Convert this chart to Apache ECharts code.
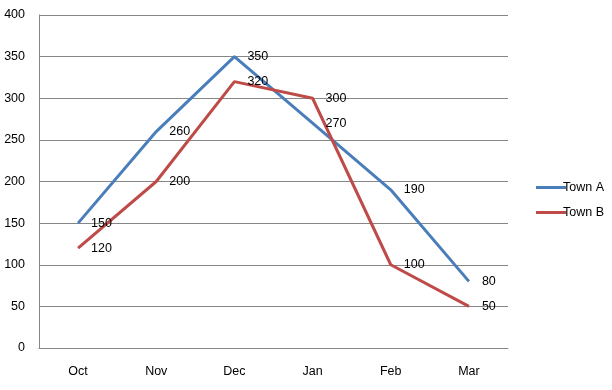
<!DOCTYPE html>
<html><head><meta charset="utf-8">
<script src="https://cdn.jsdelivr.net/npm/echarts@6/dist/echarts.min.js"></script>
<style>html,body{margin:0;padding:0;background:#fff}#c{width:612px;height:390px}</style>
</head><body><div id="c"></div>
<script>
const categories = ['Oct','Nov','Dec','Jan','Feb','Mar'];
const townA = [150,260,350,270,190,80];
const townB = [120,200,320,300,100,50];
const seriesNames = ['Town A','Town B'];
const font = 'Liberation Sans, Arial, sans-serif';
const chart = echarts.init(document.getElementById('c'));
const lbl = {show:true, position:'right', distance:13, color:'#000', fontSize:12.5, fontFamily:font};
chart.setOption({
  animation:false,
  grid:{left:39, right:104, top:15, bottom:42},
  xAxis:{type:'category', data:categories, boundaryGap:true,
    axisLine:{lineStyle:{color:'#868686'}}, axisTick:{show:false},
    axisLabel:{color:'#000', fontSize:12.5, fontFamily:font, margin:17}},
  yAxis:{type:'value', min:0, max:400, interval:50,
    axisLine:{show:true, lineStyle:{color:'#868686'}}, axisTick:{show:false},
    splitLine:{lineStyle:{color:'#868686'}},
    axisLabel:{color:'#000', fontSize:12.5, fontFamily:font, margin:14}},
  legend:{orient:'vertical', left:531, top:176, itemWidth:30, itemHeight:3, itemGap:12, icon:'rect',
    textStyle:{color:'#000', fontSize:12.5, fontFamily:font, padding:[0,0,0,-8]}, data:seriesNames},
  series:[
    {name:seriesNames[0], type:'line', data:townA, symbol:'circle', symbolSize:0, showSymbol:true, lineStyle:{width:3, color:'#4a7ebb'}, itemStyle:{color:'#4a7ebb'}, label:lbl},
    {name:seriesNames[1], type:'line', data:townB, symbol:'circle', symbolSize:0, showSymbol:true, lineStyle:{width:3, color:'#be4b48'}, itemStyle:{color:'#be4b48'}, label:lbl}
  ]
});
</script></body></html>
